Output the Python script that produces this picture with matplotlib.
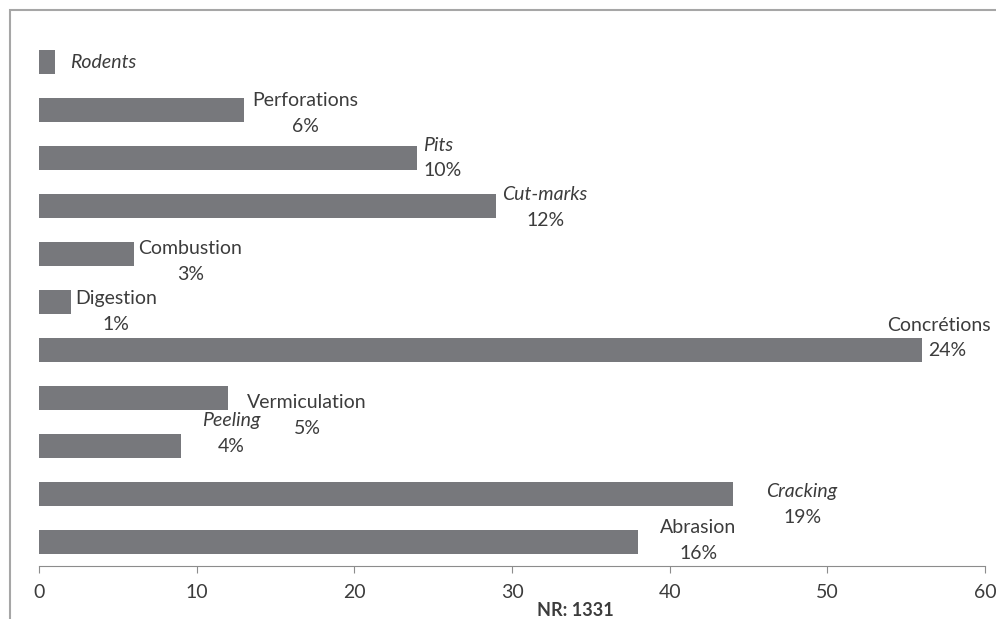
import numpy as np
import matplotlib.pyplot as plt
from matplotlib.patches import Rectangle

categories = ["Rodents", "Perforations", "Pits", "Cut-marks", "Combustion", "Digestion",
              "Concrétions", "Vermiculation", "Peeling", "Cracking", "Abrasion"]
counts = [1, 13, 24, 29, 6, 2, 56, 12, 9, 44, 38]
percents = ["", "6%", "10%", "12%", "3%", "1%", "24%", "5%", "4%", "19%", "16%"]
italic = [True, False, True, True, False, False, False, False, True, True, False]
total_label = "NR: 1331"

# label placement (data x of label centre, y shift in category units)
label_x = [1.97, 16.9, 25.6, 32.1, 9.6, 4.9, 57.6, 17.0, 12.2, 48.4, 41.8]
label_dy = [0, 0.07, 0.0, 0.03, 0.15, 0.19, -0.25, 0.37, -0.27, 0.21, -0.04]
name_dx = [0, 0, -0.3, 0, 0, 0, -0.5, 0, 0, 0, 0]

plt.rcParams['font.family'] = ['Lato', 'DejaVu Sans']
text_col = '#3c3c3c'
bar_col = '#77787c'
fs = 14

fig = plt.figure(figsize=(9.96, 6.19), dpi=100)
fig.patches.append(Rectangle((10/996, -0.1), 1.2, 1.1 - 10/619, transform=fig.transFigure,
                             fill=False, edgecolor='#a6a6a6', linewidth=1.5))
ax = fig.add_axes([39/996, 1 - 566/619, 946/996, 528/619])

y = np.arange(len(categories))
ax.barh(y, counts, height=0.5, color=bar_col)
ax.set_ylim(10.5, -0.5)
ax.set_xlim(0, 60)
ax.set_xticks(range(0, 61, 10))
ax.set_yticks([])
for s in ['top', 'right', 'left']:
    ax.spines[s].set_visible(False)
ax.spines['bottom'].set_color('#8c8c8c')
ax.tick_params(axis='x', colors='#8c8c8c', labelcolor=text_col, labelsize=fs,
               length=5, pad=8)

for i, cat in enumerate(categories):
    style = 'italic' if italic[i] else 'normal'
    if percents[i] == "":
        ax.text(label_x[i], i + label_dy[i], cat, ha='left', va='center',
                fontsize=fs, style=style, color=text_col)
        continue
    yy = i + label_dy[i]
    ax.text(label_x[i] + name_dx[i], yy - 0.27, cat, ha='center', va='center',
            fontsize=fs, style=style, color=text_col, clip_on=False)
    ax.text(label_x[i], yy + 0.27, percents[i], ha='center', va='center',
            fontsize=fs, color=text_col, clip_on=False)

fig.text(575/996, 1 - 610/619, total_label, ha='center', va='center',
         fontsize=13, fontweight='bold', color=text_col)

fig.savefig("out.png", dpi=100)
